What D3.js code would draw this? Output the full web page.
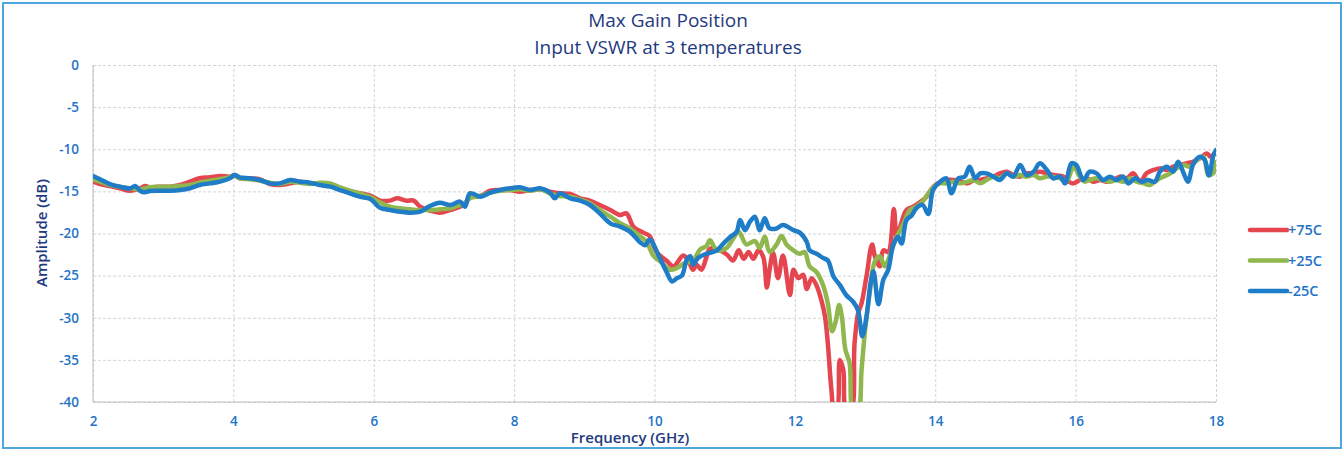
<!DOCTYPE html>
<html>
<head>
<meta charset="utf-8">
<script src="https://cdn.jsdelivr.net/npm/d3@7"></script>
<style>
  body { margin: 0; background: #fff; }
  .grid line { stroke: #d4d4d4; stroke-dasharray: 3,2; }
  .grid path { display: none; }
  .tick text { font-family: "Open Sans", sans-serif; font-size: 13.5px; font-weight: 600; fill: #1f74c6; }
</style>
</head>
<body>
<div class="svg_container"></div>
<script>
const WIDTH = 1343;
const HEIGHT = 450;
const LEFT = 93, RIGHT = 1216, TOP = 65, BOTTOM = 402;

var xTicks = [2, 4, 6, 8, 10, 12, 14, 16, 18];
var yTicks = [0, -5, -10, -15, -20, -25, -30, -35, -40];
var seriesNames = ["+75C", "+25C", "-25C"];
var seriesColors = ["#e4454f", "#8fb74e", "#1f7cc6"];

// +75C
var freq75 = [2.00,2.10,2.24,2.38,2.53,2.67,2.74,2.81,2.95,3.10,3.24,3.38,3.52,3.67,3.81,3.95,4.02,4.09,4.24,4.38,4.52,4.66,4.81,4.95,5.09,5.23,5.38,5.52,5.66,5.80,5.95,6.09,6.23,6.33,6.47,6.57,6.66,6.80,6.94,7.09,7.23,7.30,7.37,7.52,7.66,7.80,7.94,8.08,8.23,8.37,8.51,8.65,8.80,8.94,9.08,9.22,9.37,9.51,9.60,9.70,9.84,9.93,10.03,10.18,10.27,10.41,10.48,10.55,10.60,10.67,10.74,10.79,10.93,11.03,11.12,11.20,11.27,11.34,11.41,11.48,11.55,11.60,11.64,11.69,11.76,11.83,11.93,11.98,12.05,12.12,12.17,12.24,12.31,12.38,12.43,12.47,12.52,12.56,12.60,12.64,12.69,12.73,12.80,12.85,12.90,12.95,13.02,13.10,13.14,13.21,13.26,13.33,13.41,13.45,13.50,13.59,13.69,13.78,13.87,13.97,14.07,14.16,14.27,14.36,14.46,14.55,14.64,14.73,14.83,14.92,15.02,15.11,15.21,15.30,15.40,15.49,15.59,15.68,15.83,15.90,15.97,16.06,16.16,16.25,16.35,16.44,16.54,16.63,16.73,16.82,16.92,17.01,17.11,17.20,17.30,17.39,17.49,17.58,17.68,17.77,17.87,17.92,18.00];
var amp75 = [-13.85,-14.13,-14.36,-14.64,-14.92,-14.64,-14.36,-14.52,-14.44,-14.44,-14.24,-13.85,-13.45,-13.33,-13.17,-13.25,-13.06,-13.45,-13.45,-13.57,-14.13,-14.24,-14.05,-13.85,-14.05,-14.13,-14.24,-14.64,-15.03,-15.23,-15.5,-16.1,-16.1,-15.83,-16.1,-16.1,-16.82,-17.29,-17.53,-17.21,-16.82,-16.42,-15.63,-15.55,-14.92,-14.84,-14.84,-15.03,-14.84,-14.76,-15.03,-15.23,-15.31,-15.83,-16.1,-16.62,-17.21,-17.8,-17.61,-19.19,-19.9,-20.3,-22.2,-23.3,-23.9,-22.6,-23.2,-24.3,-23.7,-24.3,-22.8,-21.8,-22.0,-22.5,-23.2,-22.0,-23.0,-22.2,-23.0,-22.0,-22.8,-26.4,-24.3,-22.3,-25.3,-22.6,-27.3,-24.3,-25.3,-24.9,-26.6,-25.3,-26.2,-28.0,-29.9,-33.1,-38.5,-41,-41,-35.0,-36.2,-41,-41,-33.1,-29.5,-28.3,-25.1,-21.3,-22.7,-23.9,-22.0,-22.2,-17.1,-20.4,-19.2,-17.2,-16.8,-16.3,-15.7,-14.5,-13.9,-13.65,-13.65,-13.85,-14.05,-13.65,-13.65,-13.45,-13.25,-12.86,-12.66,-13.06,-13.25,-12.86,-12.86,-12.66,-12.86,-13.06,-13.25,-13.85,-14.05,-13.65,-13.45,-13.85,-13.65,-13.85,-13.65,-13.25,-13.45,-12.86,-13.85,-12.86,-12.46,-12.27,-12.46,-12.07,-11.87,-11.67,-11.47,-11.08,-10.49,-10.88,-10.3];

// +25C
var freq25 = [2.00,2.10,2.24,2.38,2.53,2.67,2.81,2.95,3.10,3.24,3.38,3.52,3.67,3.81,3.95,4.02,4.09,4.24,4.38,4.52,4.66,4.81,4.95,5.09,5.23,5.38,5.52,5.66,5.80,5.95,6.09,6.23,6.37,6.52,6.66,6.80,6.94,7.09,7.23,7.30,7.37,7.52,7.66,7.80,7.94,8.08,8.23,8.37,8.51,8.65,8.80,8.94,9.08,9.22,9.37,9.51,9.65,9.79,9.89,9.98,10.08,10.22,10.32,10.41,10.55,10.65,10.74,10.79,10.89,11.03,11.12,11.20,11.31,11.43,11.50,11.57,11.64,11.74,11.81,11.88,11.98,12.07,12.14,12.21,12.31,12.40,12.47,12.53,12.58,12.63,12.67,12.72,12.78,12.83,12.90,12.95,13.00,13.07,13.14,13.21,13.28,13.35,13.45,13.54,13.64,13.73,13.82,13.92,14.00,14.07,14.16,14.27,14.36,14.46,14.55,14.64,14.73,14.83,14.92,15.02,15.11,15.21,15.30,15.40,15.49,15.59,15.68,15.78,15.87,15.97,16.06,16.13,16.20,16.30,16.39,16.49,16.58,16.68,16.78,16.87,16.97,17.06,17.16,17.25,17.35,17.44,17.54,17.63,17.73,17.82,17.89,17.96,18.00];
var amp25 = [-13.57,-13.85,-14.24,-14.44,-14.64,-14.76,-14.52,-14.44,-14.44,-14.36,-14.24,-13.97,-13.73,-13.57,-13.33,-13.17,-13.45,-13.57,-13.73,-13.97,-14.13,-13.85,-13.97,-14.13,-13.97,-14.05,-14.52,-14.92,-15.23,-15.67,-16.3,-16.82,-17.01,-17.13,-17.21,-17.21,-17.13,-17.01,-16.62,-16.42,-15.83,-15.55,-15.15,-14.92,-14.84,-14.76,-14.92,-14.76,-15.23,-15.55,-15.63,-15.99,-16.42,-17.21,-18.0,-18.79,-19.38,-20.3,-21.0,-22.6,-23.3,-24.3,-24.1,-23.6,-23.2,-21.9,-21.5,-20.8,-22.0,-21.7,-20.6,-19.8,-21.3,-20.9,-21.7,-20.4,-22.2,-21.3,-20.3,-21.3,-22.0,-22.4,-22.2,-23.9,-24.6,-26.1,-28.3,-31.6,-30.5,-28.5,-29.9,-33.8,-35.4,-41,-41,-36.2,-31.5,-26.8,-23.3,-22.7,-23.9,-22.7,-20.4,-19.0,-17.2,-16.8,-16.2,-15.0,-14.3,-14.05,-14.05,-13.85,-14.05,-13.85,-13.65,-14.05,-13.65,-13.25,-13.45,-12.86,-13.25,-13.06,-13.25,-13.06,-13.45,-13.25,-13.25,-13.45,-13.85,-12.07,-13.25,-13.85,-13.65,-13.45,-13.65,-13.85,-13.65,-13.85,-13.45,-13.85,-14.05,-14.24,-13.65,-13.25,-12.86,-12.27,-11.87,-12.07,-11.28,-10.88,-13.06,-12.86,-11.5];

// -25C
var freqM25 = [2.00,2.10,2.24,2.38,2.53,2.60,2.67,2.74,2.81,2.95,3.10,3.24,3.38,3.52,3.67,3.81,3.95,4.02,4.09,4.24,4.38,4.52,4.66,4.81,4.95,5.09,5.23,5.38,5.52,5.66,5.80,5.95,6.09,6.23,6.37,6.52,6.66,6.80,6.94,7.09,7.23,7.30,7.37,7.52,7.66,7.80,7.94,8.08,8.23,8.37,8.51,8.58,8.65,8.80,8.94,9.08,9.22,9.37,9.51,9.65,9.79,9.87,9.93,10.08,10.18,10.25,10.32,10.39,10.46,10.51,10.55,10.62,10.74,10.89,10.98,11.08,11.17,11.22,11.29,11.36,11.43,11.50,11.57,11.64,11.74,11.83,11.98,12.07,12.17,12.21,12.31,12.40,12.47,12.55,12.64,12.73,12.83,12.90,12.96,13.02,13.08,13.12,13.19,13.26,13.33,13.40,13.47,13.52,13.59,13.66,13.73,13.82,13.90,13.97,14.07,14.16,14.23,14.33,14.42,14.49,14.57,14.64,14.73,14.83,14.92,15.02,15.11,15.21,15.30,15.40,15.49,15.59,15.68,15.78,15.85,15.94,16.01,16.11,16.20,16.30,16.39,16.49,16.58,16.68,16.75,16.85,16.94,17.03,17.13,17.20,17.30,17.39,17.46,17.53,17.60,17.68,17.77,17.84,17.90,17.96,18.00];
var ampM25 = [-13.17,-13.57,-14.13,-14.44,-14.64,-14.36,-14.92,-15.11,-14.96,-14.92,-14.92,-14.84,-14.64,-14.24,-14.05,-13.85,-13.45,-13.06,-13.33,-13.45,-13.65,-14.05,-14.05,-13.65,-13.85,-13.97,-14.24,-14.44,-14.84,-15.23,-15.63,-15.9,-16.94,-17.21,-17.41,-17.53,-17.41,-16.74,-16.34,-16.62,-16.22,-16.82,-15.23,-15.63,-15.15,-14.84,-14.64,-14.52,-14.84,-14.64,-15.15,-15.83,-15.23,-15.83,-16.1,-16.62,-17.61,-18.79,-19.19,-19.78,-21.0,-21.4,-20.7,-23.0,-24.7,-25.7,-25.3,-25.0,-23.1,-22.7,-23.7,-22.9,-22.4,-22.0,-21.2,-20.4,-19.8,-18.4,-19.6,-18.6,-18.0,-19.6,-18.2,-19.4,-19.4,-19.0,-19.6,-19.9,-21.0,-22.0,-22.4,-22.9,-23.2,-25.1,-26.1,-27.3,-28.1,-29.1,-32.2,-29.9,-25.8,-24.5,-28.4,-25.5,-24.3,-21.4,-20.4,-21.2,-18.4,-17.9,-17.0,-16.6,-17.7,-14.8,-13.85,-13.45,-15.23,-13.45,-13.25,-12.07,-13.45,-12.86,-12.86,-13.25,-13.65,-12.86,-13.25,-11.87,-13.06,-12.66,-11.67,-12.46,-13.45,-13.25,-14.05,-11.67,-11.87,-13.65,-12.66,-12.86,-13.65,-13.25,-13.65,-13.25,-14.05,-13.45,-13.85,-13.65,-13.85,-12.66,-12.07,-12.66,-11.47,-12.66,-13.85,-11.67,-10.88,-11.28,-13.1,-10.8,-10.09];

var seriesFreq = [freq75, freq25, freqM25];
var seriesAmp = [amp75, amp25, ampM25];

var xScale = d3.scaleLinear().domain([2, 18]).range([LEFT, RIGHT]);
var yScale = d3.scaleLinear().domain([-40, 0]).range([BOTTOM, TOP]);

var svg = d3.select('.svg_container').append('svg')
  .attr('width', WIDTH)
  .attr('height', HEIGHT);

// outer frame
svg.append('rect')
  .attr('x', 3).attr('y', 3)
  .attr('width', WIDTH - 5).attr('height', HEIGHT - 5)
  .attr('fill', 'none')
  .attr('stroke', '#4ea6dc')
  .attr('stroke-width', 2);

// grid
svg.append('g')
  .attr('class', 'grid')
  .attr('transform', 'translate(0,' + BOTTOM + ')')
  .call(d3.axisBottom(xScale).tickValues(xTicks).tickSize(-(BOTTOM - TOP)).tickFormat(''));
svg.append('g')
  .attr('class', 'grid')
  .attr('transform', 'translate(' + LEFT + ',0)')
  .call(d3.axisLeft(yScale).tickValues(yTicks).tickSize(-(RIGHT - LEFT)).tickFormat(''));

// axes labels
var xAxis = svg.append('g')
  .attr('transform', 'translate(0,' + BOTTOM + ')')
  .call(d3.axisBottom(xScale).tickValues(xTicks).tickSize(0).tickPadding(14).tickFormat(function (d) { return String(d); }));
xAxis.select('.domain').remove();

var yAxis = svg.append('g')
  .attr('transform', 'translate(' + LEFT + ',0)')
  .call(d3.axisLeft(yScale).tickValues(yTicks).tickSize(0).tickPadding(14).tickFormat(function (d) { return String(d); }));
yAxis.select('.domain').remove();

// plot frame lines
svg.append('line')
  .attr('x1', LEFT).attr('x2', LEFT).attr('y1', TOP).attr('y2', BOTTOM)
  .attr('stroke', '#bfbfbf');
svg.append('line')
  .attr('x1', LEFT).attr('x2', RIGHT).attr('y1', BOTTOM).attr('y2', BOTTOM)
  .attr('stroke', '#bfbfbf');

svg.append('clipPath').attr('id', 'plotClip')
  .append('rect')
  .attr('x', LEFT).attr('y', TOP)
  .attr('width', RIGHT - LEFT).attr('height', BOTTOM - TOP);

var line = d3.line()
  .x(function (d) { return xScale(d[0]); })
  .y(function (d) { return yScale(d[1]); })
  .curve(d3.curveCatmullRom);

var lines = svg.append('g').attr('clip-path', 'url(#plotClip)');
seriesNames.forEach(function (name, i) {
  var pts = seriesFreq[i].map(function (f, j) { return [f, seriesAmp[i][j]]; });
  lines.append('path')
    .attr('d', line(pts))
    .attr('fill', 'none')
    .attr('stroke', seriesColors[i])
    .attr('stroke-width', 4.5)
    .attr('stroke-linejoin', 'round')
    .attr('stroke-linecap', 'round');
});

// titles
svg.append('text')
  .attr('x', 668).attr('y', 27)
  .attr('text-anchor', 'middle')
  .style('font-family', '"Open Sans", sans-serif')
  .style('font-size', '19px')
  .style('fill', '#1f3a80')
  .text('Max Gain Position');
svg.append('text')
  .attr('x', 668).attr('y', 54)
  .attr('text-anchor', 'middle')
  .style('font-family', '"Open Sans", sans-serif')
  .style('font-size', '19px')
  .style('fill', '#1f3a80')
  .text('Input VSWR at 3 temperatures');

svg.append('text')
  .attr('x', 630).attr('y', 443)
  .attr('text-anchor', 'middle')
  .style('font-family', '"Open Sans", sans-serif')
  .style('font-size', '15px')
  .style('font-weight', '600')
  .style('fill', '#1f3a80')
  .text('Frequency (GHz)');

svg.append('text')
  .attr('transform', 'translate(47,233) rotate(-90)')
  .attr('text-anchor', 'middle')
  .style('font-family', '"Open Sans", sans-serif')
  .style('font-size', '15px')
  .style('font-weight', '600')
  .style('fill', '#1f3a80')
  .text('Amplitude (dB)');

// legend
var legend = svg.append('g');
seriesNames.forEach(function (name, i) {
  var y = 230 + i * 30.5;
  legend.append('line')
    .attr('x1', 1250).attr('x2', 1287).attr('y1', y).attr('y2', y)
    .attr('stroke', seriesColors[i]).attr('stroke-width', 4.5)
    .attr('stroke-linecap', 'round');
  legend.append('text')
    .attr('x', 1288).attr('y', y + 5)
    .style('font-family', '"Open Sans", sans-serif')
    .style('font-size', '14.5px')
    .style('font-weight', '600')
    .style('fill', '#1f74c6')
    .text(name);
});
</script>
</body>
</html>
